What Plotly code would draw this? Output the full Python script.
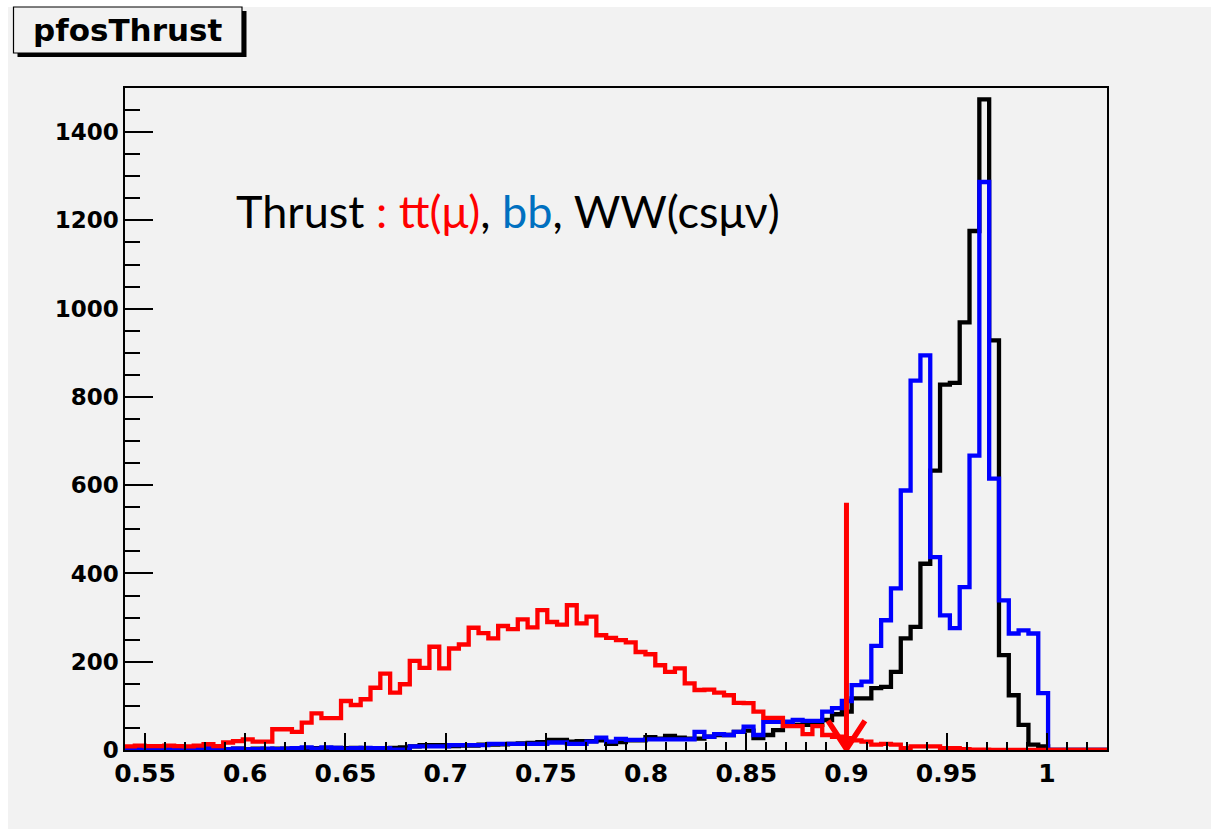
import numpy as np
import plotly.graph_objects as go

# ---------------- data ----------------
X_MIN, X_MAX, N_BINS = 0.54, 1.03, 100

red_tt = [8, 10, 9, 9, 10, 9, 8, 10, 13, 9,
          17, 20, 24, 19, 19, 47, 47, 41, 62, 83,
          72, 72, 111, 102, 115, 141, 173, 130, 149, 202,
          186, 234, 185, 230, 239, 277, 265, 253, 281, 274,
          296, 278, 317, 290, 284, 328, 287, 302, 260, 254,
          249, 244, 222, 217, 192, 177, 185, 151, 136, 137,
          130, 124, 107, 106, 87, 73, 73, 54, 54, 36,
          54, 34, 30, 27, 22, 19, 12, 14, 12, 4,
          8, 8, 8, 4, 4, 2, 1, 1, 0, 0,
          0, 0, 0, 0, 0, 0, 0, 0, 0, 0]

blue_bb = [2, 3, 2, 3, 4, 5, 4, 2, 5, 4,
           2, 3, 2, 2, 3, 2, 3, 4, 6, 3,
           6, 5, 3, 4, 5, 4, 4, 1, 1, 8,
           8, 8, 8, 11, 11, 11, 11, 14, 14, 14,
           14, 14, 14, 17, 17, 14, 14, 19, 28, 19,
           25, 23, 23, 24, 24, 24, 24, 24, 41, 30,
           36, 34, 41, 53, 34, 64, 64, 64, 68, 66,
           66, 87, 95, 111, 147, 155, 236, 294, 366, 588,
           837, 894, 437, 305, 276, 369, 667, 1287, 615, 339,
           264, 271, 264, 129, 0, 0, 0, 0, 0, 0]

black_ww = [1, 2, 1, 2, 2, 3, 2, 1, 3, 2,
            2, 3, 2, 3, 2, 3, 3, 4, 3, 4,
            4, 5, 4, 5, 4, 3, 4, 5, 6, 8,
            11, 11, 11, 9, 10, 10, 12, 12, 13, 14,
            15, 16, 18, 23, 23, 19, 20, 20, 22, 14,
            18, 22, 22, 29, 26, 32, 28, 26, 26, 30,
            34, 34, 41, 44, 27, 34, 45, 57, 57, 57,
            57, 68, 81, 87, 117, 117, 140, 143, 177, 253,
            279, 422, 633, 828, 832, 969, 1176, 1474, 928, 215,
            124, 57, 12, 8, 0, 0, 0, 0, 0, 0]

x_tick_vals = [0.55, 0.6, 0.65, 0.7, 0.75, 0.8, 0.85, 0.9, 0.95, 1.0]
x_tick_text = ["0.55", "0.6", "0.65", "0.7", "0.75", "0.8", "0.85", "0.9", "0.95", "1"]
y_tick_vals = [0, 200, 400, 600, 800, 1000, 1200, 1400]
Y_MAX = 1500

CUT_X = 0.9          # cut arrow position
ARROW_TOP = 560      # arrow starts here (counts)

TITLE = "pfosThrust"
# ---------------------------------------

W, H = 1211, 829
ML, MR, MT, MB = 125, 104, 88, 79
PW, PH = W - ML - MR, H - MT - MB


def px(xp):
    return (xp - ML) / PW


def py(yp):
    return (H - MB - yp) / PH


edges = X_MIN + (X_MAX - X_MIN) / N_BINS * np.arange(N_BINS + 1)


def step(vals):
    xs = list(edges)
    ys = list(vals) + [vals[-1]]
    return xs, ys


fig = go.Figure()
for vals, col in [(black_ww, "#000000"), (blue_bb, "#0000ff"), (red_tt, "#ff0000")]:
    xs, ys = step(vals)
    fig.add_trace(go.Scatter(x=xs, y=ys, mode="lines", line=dict(color=col, width=4.3, shape="hv"),
                             hoverinfo="skip", showlegend=False, cliponaxis=True))

xtickfont = dict(family="DejaVu Sans", size=25, color="black", weight="bold")
ytickfont = dict(family="DejaVu Sans", size=23, color="black", weight="bold")

fig.update_xaxes(range=[X_MIN, X_MAX], tickvals=x_tick_vals, ticktext=x_tick_text,
                 ticks="inside", ticklen=17, tickwidth=1.5, tickcolor="black",
                 minor=dict(dtick=0.01, tick0=0.5, ticks="inside", ticklen=8, tickwidth=1.5, tickcolor="black"),
                 showline=True, linecolor="black", linewidth=1.5, mirror=True,
                 showgrid=False, zeroline=False, tickfont=xtickfont)
fig.update_yaxes(range=[0, Y_MAX], tickvals=y_tick_vals,
                 ticks="inside", ticklen=28, tickwidth=1.5, tickcolor="black",
                 minor=dict(dtick=50, tick0=0, ticks="inside", ticklen=15, tickwidth=1.5, tickcolor="black"),
                 showline=True, linecolor="black", linewidth=1.5, mirror=True,
                 showgrid=False, zeroline=False, tickfont=ytickfont)

shapes = [
    # white border strips (top, left)
    dict(type="rect", xref="paper", yref="paper", x0=px(-5), x1=px(W + 5), y0=py(7), y1=py(-5),
         fillcolor="white", line_width=0, layer="above"),
    dict(type="rect", xref="paper", yref="paper", x0=px(-5), x1=px(8), y0=py(H + 5), y1=py(-5),
         fillcolor="white", line_width=0, layer="above"),
    # title box shadow and box
    dict(type="rect", xref="paper", yref="paper", x0=px(17.5), x1=px(246.5), y0=py(57), y1=py(11),
         fillcolor="black", line_width=0, layer="above"),
    dict(type="rect", xref="paper", yref="paper", x0=px(13.5), x1=px(242), y0=py(53), y1=py(7),
         fillcolor="#f2f2f2", line=dict(color="black", width=1.2), layer="above"),
    # cut arrow
    dict(type="line", xref="x", yref="y", x0=CUT_X, x1=CUT_X, y0=ARROW_TOP, y1=4,
         line=dict(color="#ff0000", width=5), layer="above"),
    dict(type="path", xref="x", yref="y",
         path=f"M {CUT_X - 0.0092},{66} L {CUT_X},{2} L {CUT_X + 0.0092},{66}",
         line=dict(color="#ff0000", width=5.5), layer="above"),
]

annotations = [
    dict(xref="paper", yref="paper", x=px(127.5), y=py(30), xanchor="center", yanchor="middle",
         text=TITLE, showarrow=False,
         font=dict(family="DejaVu Sans", size=31, color="black", weight="bold")),
    dict(xref="paper", yref="paper", x=px(234), y=py(211), xanchor="left", yanchor="middle",
         text="Thrust<span style='color:#ff0000'> : tt(μ)</span>, "
              "<span style='color:#0070c0'>bb</span>, WW(csμν)",
         showarrow=False, font=dict(family="Lato", size=45, color="black")),
]

fig.update_layout(width=W, height=H, autosize=False,
                  margin=dict(l=ML, r=MR, t=MT, b=MB, pad=0),
                  paper_bgcolor="#f2f2f2", plot_bgcolor="#f2f2f2",
                  shapes=shapes, annotations=annotations, showlegend=False)

fig.write_html("out.html")
